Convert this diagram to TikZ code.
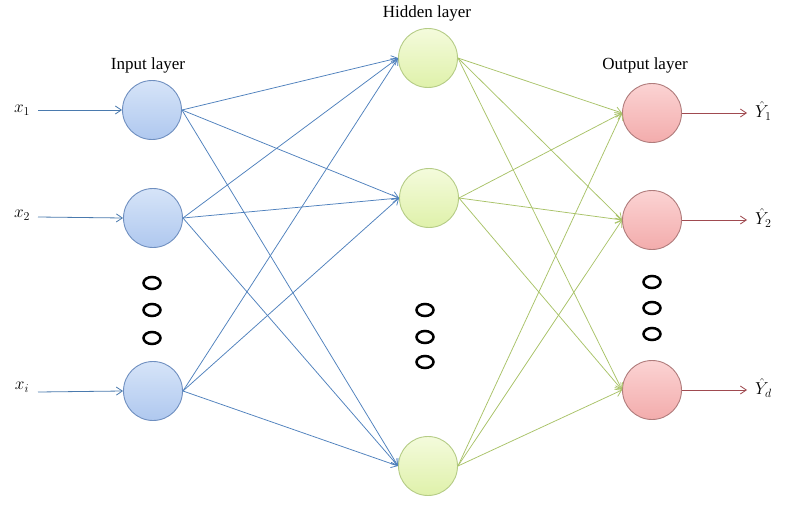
\documentclass[tikz,border=0pt]{standalone}
\usepackage{fontspec}
\setmainfont{Liberation Serif}
\usetikzlibrary{arrows.meta}
\definecolor{inpB}{HTML}{6F8FC0}
\definecolor{inpT}{HTML}{D6E4F8}
\definecolor{inpD}{HTML}{AFC8EF}
\definecolor{hidB}{HTML}{B5CC86}
\definecolor{hidT}{HTML}{F4FBDC}
\definecolor{hidD}{HTML}{DFF1AA}
\definecolor{outB}{HTML}{B07C7C}
\definecolor{outT}{HTML}{FBD3D3}
\definecolor{outD}{HTML}{F3ACAC}
\definecolor{blueL}{HTML}{4F81BD}
\definecolor{greenL}{HTML}{A9C368}
\definecolor{redL}{HTML}{A04A50}
\definecolor{inL}{HTML}{4A7AAE}
\begin{document}
\begin{tikzpicture}[x=1pt,y=-1pt,
  neuron/.style={circle,inner sep=0pt,minimum size=59pt,line width=0.9pt},
  inpn/.style={neuron,draw=inpB,top color=inpT,bottom color=inpD},
  hidn/.style={neuron,draw=hidB,top color=hidT,bottom color=hidD},
  outn/.style={neuron,draw=outB,top color=outT,bottom color=outD},
  tip/.style={-{Straight Barb[length=6pt,width=8pt]}},
  bconn/.style={tip,draw=blueL,line width=0.75pt},
  gconn/.style={tip,draw=greenL,line width=0.75pt},
  rconn/.style={tip,draw=redL,line width=0.8pt},
  iconn/.style={tip,draw=inL,line width=0.8pt},
  lbl/.style={font=\fontsize{17}{20}\selectfont,inner sep=0pt},
  vlbl/.style={font=\fontsize{18}{20}\selectfont,inner sep=0pt},
  dot/.style={draw=black,line width=2.5pt,x radius=8.5pt,y radius=6pt}
]
\useasboundingbox (0,0) rectangle (796,506);
\fill[white] (0,0) rectangle (796,506);

% nodes
\node[inpn] (i1) at (152,110) {};
\node[inpn] (i2) at (153,218) {};
\node[inpn] (i3) at (153,391) {};
\node[hidn] (h1) at (428,58) {};
\node[hidn] (h2) at (429,198) {};
\node[hidn] (h3) at (428,466) {};
\node[outn] (o1) at (652,113) {};
\node[outn] (o2) at (652,220) {};
\node[outn] (o3) at (652,390) {};

% layer labels
\node[lbl] (tin) at (148,65) {Input layer};
\node[lbl] (thid) at (427,13) {Hidden layer};
\node[lbl] (tout) at (645,65) {Output layer};

% inputs
\node[vlbl] (x1) at (22,110) {$x_1$};
\node[vlbl] (x2) at (22,215) {$x_2$};
\node[vlbl] (xi) at (22,387) {$x_i$};
\coordinate (x1e) at (38,110);
\coordinate (x2e) at (38,217);
\coordinate (xie) at (38,392);
\draw[iconn] (x1e) -- (i1.west);
\draw[iconn] (x2e) -- (i2.west);
\draw[iconn] (xie) -- (i3.west);

% outputs
\node[vlbl,anchor=west] (y1) at (755,111) {$\hat{Y}_1$};
\node[vlbl,anchor=west] (y2) at (755,218) {$\hat{Y}_2$};
\node[vlbl,anchor=west] (y3) at (755,388) {$\hat{Y}_d$};
\coordinate (y1e) at (747,113);
\coordinate (y2e) at (747,220);
\coordinate (y3e) at (747,390);
\draw[rconn] (o1.east) -- (y1e);
\draw[rconn] (o2.east) -- (y2e);
\draw[rconn] (o3.east) -- (y3e);

% connections
\foreach \a in {i1,i2,i3}
  \foreach \b in {h1,h2,h3}
    \draw[bconn] (\a.east) -- (\b.west);
\foreach \a in {h1,h2,h3}
  \foreach \b in {o1,o2,o3}
    \draw[gconn] (\a.east) -- (\b.west);

% ellipsis dots
\foreach \yy in {283,310,338} \draw[dot] (152,\yy) ellipse[];
\foreach \yy in {310,337,362} \draw[dot] (425,\yy) ellipse[];
\foreach \yy in {282,308,334} \draw[dot] (652,\yy) ellipse[];
\end{tikzpicture}
\end{document}
